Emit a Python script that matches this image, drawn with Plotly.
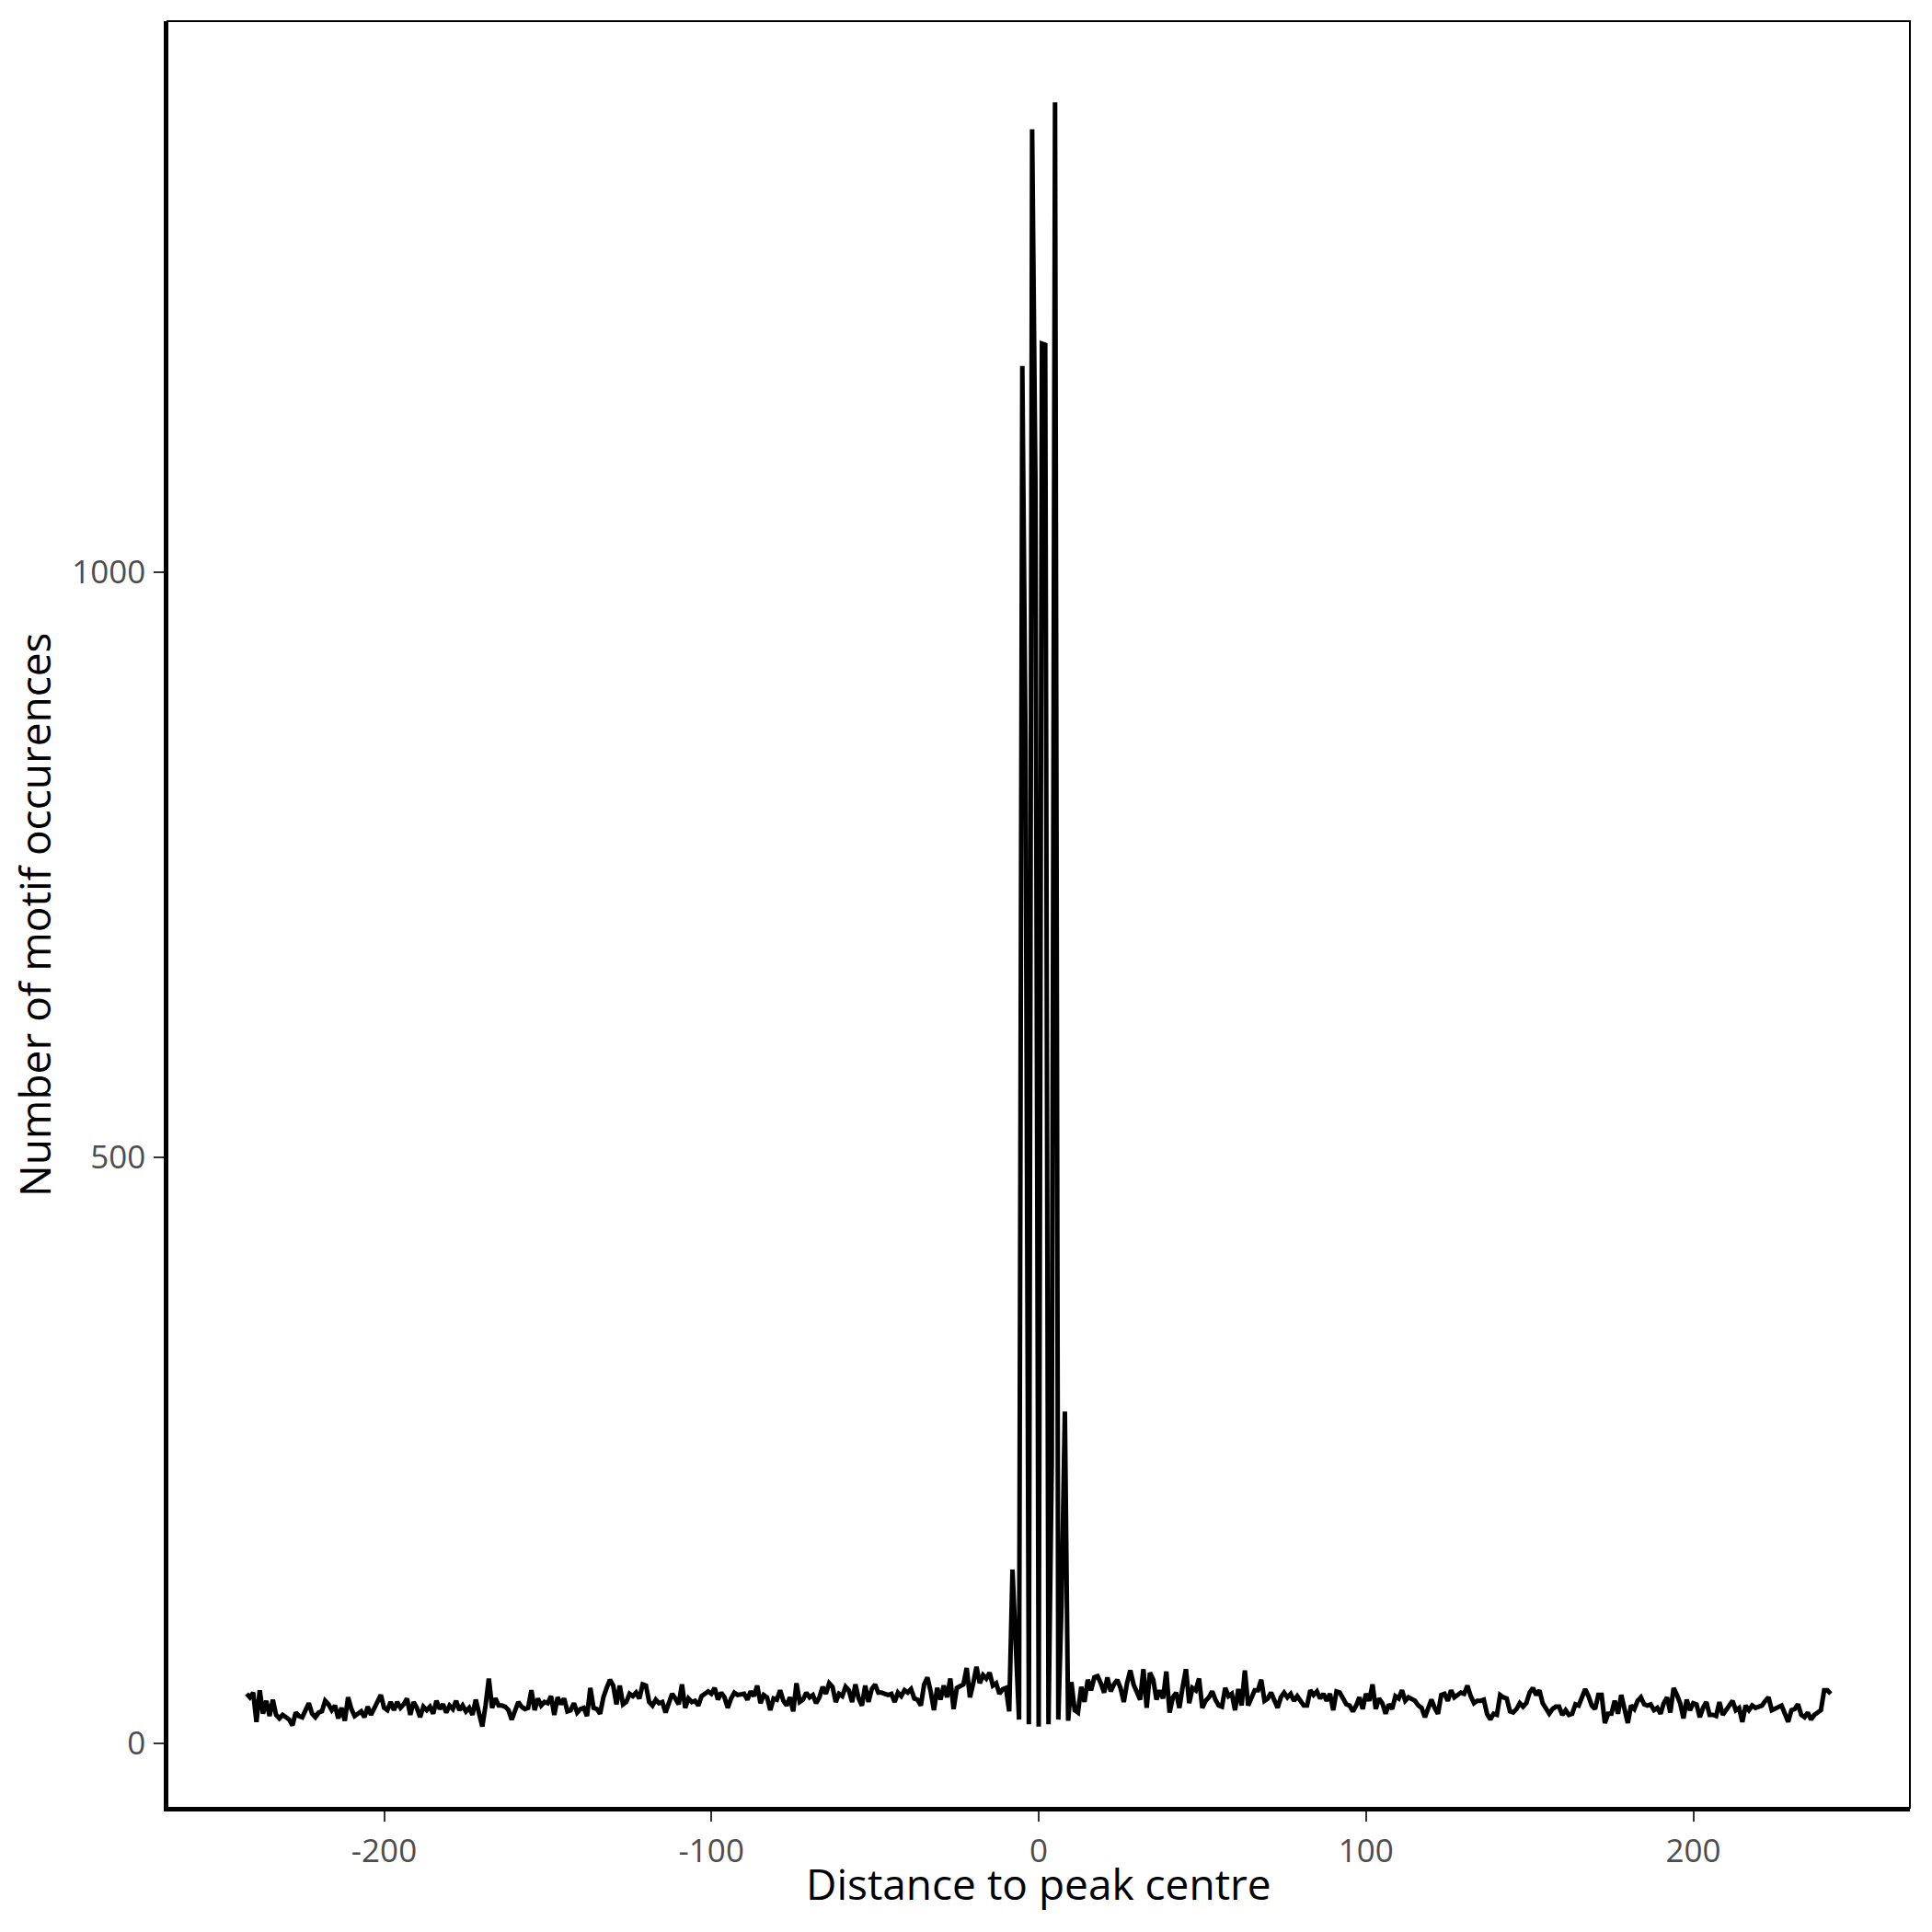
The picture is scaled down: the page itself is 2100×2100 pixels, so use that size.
import plotly.graph_objects as go

# Motif occurrence counts, by distance segment
left_start = -242
left_noise_a = [42, 39, 43, 18, 45, 25, 36, 23, 37, 24,
                21, 24, 22, 20, 15, 26, 23, 22, 28, 34,
                25, 22, 26, 27, 36, 33, 28, 32, 21, 30,
                19, 39, 29, 23, 25, 27, 22, 31, 24, 30,
                34, 41, 30, 28, 35, 28, 35, 30, 33, 38,
                24, 35, 30, 22, 31, 28, 31, 25, 36, 29,
                33, 26, 32, 29, 36, 28, 32, 27, 30, 24,
                37, 24, 14, 32]
left_noise_b = [55, 30, 38, 32, 32, 31, 28, 20, 28, 35,
                31, 29, 30, 45, 28, 38, 32, 35, 34, 40,
                24, 39, 33, 38, 27, 28, 34, 26, 29, 30,
                23, 47, 30, 29, 25, 39, 47, 54, 49, 33,
                49, 33, 35, 42, 40, 43, 38, 50, 49, 35,
                32, 37, 34, 35, 26, 34, 42, 38, 33]
left_noise_c = [50, 30, 38, 35, 36, 32, 40, 42, 44, 42,
                47, 37, 43, 39, 30, 38, 43, 41, 42, 42,
                37, 44, 40, 49, 34, 41, 39, 28, 38, 37,
                45, 36, 32, 39, 27, 51, 35, 37, 43, 39,
                41, 34, 39, 48, 42, 51, 48, 35, 42, 40,
                48, 45, 35, 50, 38, 32, 49, 35, 46, 50,
                43, 43, 42, 41, 42, 35, 43, 40, 45, 43,
                46, 38, 37, 32, 50, 56, 44, 28, 47, 37,
                49, 39, 55, 29, 47, 49, 50, 64, 39, 51,
                65, 51, 58, 55, 60, 49, 51, 42, 46, 47]
centre_values = [27, 148, 85, 20, 1176, 850, 16, 1378, 1080, 14,
                 1195, 1194, 16, 240, 1401, 20, 120, 283, 19]
right_noise_a = [52, 28, 26, 48, 35, 54, 45,
                 56, 57, 51, 43, 56, 44, 50,
                 54, 47, 35, 51, 62, 50, 44,
                 37, 63, 30, 60, 54, 37, 45,
                 38, 61, 26, 39, 43, 30, 48,
                 63, 34, 47, 45, 55, 30, 36,
                 39, 44, 37, 32, 31, 47, 40,
                 42, 28, 46, 32, 62, 32, 38,
                 45, 45, 54, 36, 38, 43, 36,
                 30, 39, 43, 39, 42, 36, 40,
                 36, 32, 32, 45, 41, 44, 38,
                 42, 36, 42, 28, 44, 43, 37,
                 33, 32, 27, 32, 39, 29, 42,
                 36, 50, 29, 38, 34, 25, 33,
                 29, 40, 38, 45, 36, 39, 37,
                 36, 32, 30, 22, 30, 37, 30,
                 25, 41, 42, 36, 45, 39, 41,
                 43, 42, 49, 40, 34, 36, 36,
                 37, 25, 20, 25, 24, 41, 39,
                 38, 27, 26, 29]
right_noise_b = [34, 31, 34, 43, 47, 41, 45, 34, 30, 25,
                 29, 31, 31, 24, 28, 24, 25, 33, 32, 38,
                 46, 40, 32, 29, 41, 41, 17, 25, 25, 36,
                 25, 41, 28, 17, 32, 29, 36, 39, 33, 32,
                 33, 28, 30, 25, 34, 39, 26, 47, 41, 34,
                 21, 37, 28, 34, 33, 22, 30, 35, 24, 24,
                 23, 35, 24, 29, 32, 36, 28, 30, 18, 32,
                 28, 32, 30, 31, 32, 36, 39, 28, 29, 30,
                 32, 25, 18, 28, 29, 33, 24, 22, 26, 20,
                 24, 26, 28, 45, 45, 42]

counts = left_noise_a + left_noise_b + left_noise_c + centre_values + right_noise_a + right_noise_b
distance = list(range(left_start, left_start + len(counts)))

x_title = "Distance to peak centre"
y_title = "Number of motif occurences"
x_ticks = [-200, -100, 0, 100, 200]
y_ticks = [0, 500, 1000]

# ggplot-style 5% expansion
xmin, xmax = min(distance), max(distance)
ymin, ymax = min(counts), max(counts)
xpad = 0.05 * (xmax - xmin)
ypad = 0.05 * (ymax - ymin)

fig = go.Figure()
fig.add_trace(go.Scatter(x=distance, y=counts, mode="lines",
                         line=dict(color="black", width=5),
                         hoverinfo="skip", showlegend=False))

tick_font = dict(family="Open Sans", size=35, color="#4D4D4D")
fig.update_layout(
    width=2100, height=2100,
    margin=dict(l=174, r=32, t=15, b=143),
    paper_bgcolor="white", plot_bgcolor="white",
    showlegend=False,
    xaxis=dict(range=[xmin - xpad, xmax + xpad], tickvals=x_ticks,
               ticktext=[str(v) for v in x_ticks],
               showgrid=False, zeroline=False, showline=True,
               linecolor="black", linewidth=3.5, ticks="outside",
               ticklen=11, tickwidth=2, tickcolor="#333333",
               tickfont=tick_font, ticklabelstandoff=2),
    yaxis=dict(range=[ymin - ypad, ymax + ypad], tickvals=y_ticks,
               ticktext=[str(v) for v in y_ticks],
               showgrid=False, zeroline=False, showline=True,
               linecolor="black", linewidth=3.5, ticks="outside",
               ticklen=11, tickwidth=2, tickcolor="#333333",
               tickfont=tick_font, ticklabelstandoff=2),
    shapes=[dict(type="rect", xref="paper", yref="paper", x0=0, y0=0, x1=1, y1=1,
                 line=dict(color="black", width=2), fillcolor="rgba(0,0,0,0)",
                 layer="above")],
    annotations=[
        dict(text=x_title, xref="paper", yref="paper", x=0.5, y=0,
             xanchor="center", yanchor="middle", yshift=-82, showarrow=False,
             font=dict(family="Open Sans", size=46, color="black")),
        dict(text=y_title, xref="paper", yref="paper", x=0, y=0.5,
             xanchor="center", yanchor="middle", xshift=-145, textangle=-90,
             showarrow=False, font=dict(family="Open Sans", size=46, color="black")),
    ],
)

fig.write_html("out.html", config={"displayModeBar": False})
